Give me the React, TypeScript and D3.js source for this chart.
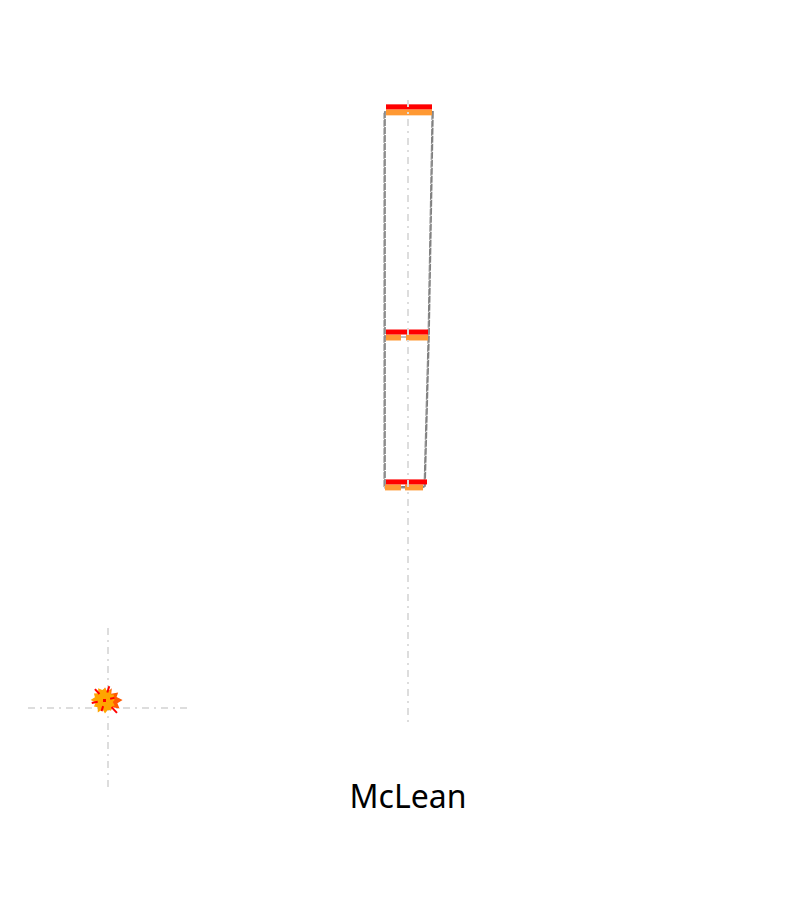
import { useEffect, useRef } from 'react';
import * as d3 from 'd3';

// Vertical position of each level (0 = bottom of axis, 100 = top)
const levelValues = [98.9, 62.7, 38.6];
// Width of the red cap on each level
const capWidths = [47, 43, 42];
// Orange strips under each cap, as [start, end] pairs
const orangeSegments: [number, number][][] = [
    [[1, 47]],
    [[1, 16], [21, 43]],
    [[0, 16], [20, 38]],
];
// Right edge of the grey outline at each level (left edge is 0)
const outlineRight = [48, 44, 40];
const outlineLeft = [0, 0, 0];

// Small radial glyph on the lower left (24 spokes, clockwise from top)
const glyphBack = [3.2, 2.0, 3.4, 2.2, 3.8, 3.0, 4.4, 3.2, 4.2, 2.6, 3.0, 2.0,
    2.2, 1.6, 2.0, 1.5, 2.2, 1.6, 2.4, 1.8, 2.6, 1.8, 3.0, 2.0];
const glyphFront = [3.0, 2.2, 2.8, 2.0, 2.6, 2.2, 2.4, 2.0, 2.8, 2.4, 3.0, 2.6,
    3.4, 2.4, 3.6, 2.6, 3.2, 2.4, 3.6, 2.6, 3.2, 2.4, 3.4, 2.6];
const glyphRed = [3.6, 2.4, 4.4, 2.9, 3.4, 3.7];

const title = 'McLean';

export default function App() {
    const svgRef = useRef<SVGSVGElement>(null);

    useEffect(() => {
        if (!svgRef.current) return;
        const svg = d3.select(svgRef.current);
        svg.selectAll('*').remove();

        const yScale = d3.scaleLinear().domain([0, 100]).range([722, 100]);
        const xScale = d3.scaleLinear().domain([0, 50]).range([385, 435]);
        const axisX = xScale(23);

        // Outline (two sketchy strokes)
        const outlinePts = (dx: number, dy: number): [number, number][] => {
            const right = levelValues.map((v, i) => [xScale(outlineRight[i]) + dx, yScale(v) + 5 + dy] as [number, number]);
            const left = levelValues.map((v, i) => [xScale(outlineLeft[i]) + dx, yScale(v) + 5 + dy] as [number, number]).reverse();
            return [...right, ...left];
        };
        const line = d3.line().curve(d3.curveLinearClosed);
        [[0, 0], [-1, 1]].forEach(([dx, dy], k) => {
            svg.append('path')
                .attr('d', line(outlinePts(dx, dy)))
                .attr('fill', 'none')
                .attr('stroke', '#808080')
                .attr('stroke-width', k === 0 ? 1.6 : 1)
                .attr('stroke-dasharray', '7,1');
        });
        svg.append('line')
            .attr('x1', xScale(0)).attr('x2', xScale(outlineRight[1]))
            .attr('y1', yScale(levelValues[1]) + 5).attr('y2', yScale(levelValues[1]) + 5)
            .attr('stroke', '#808080').attr('stroke-width', 1);

        // Caps
        levelValues.forEach((v, i) => {
            const y = yScale(v);
            orangeSegments[i].forEach(([a, b]) => {
                svg.append('rect')
                    .attr('x', xScale(a)).attr('y', y + 2.5)
                    .attr('width', xScale(b) - xScale(a)).attr('height', 6)
                    .attr('fill', '#ff9933');
            });
            svg.append('rect')
                .attr('x', xScale(1)).attr('y', y - 2.5)
                .attr('width', xScale(capWidths[i]) - xScale(1)).attr('height', 5)
                .attr('fill', '#ff0000');
        });

        // Centre axis
        svg.append('line')
            .attr('x1', axisX).attr('x2', axisX)
            .attr('y1', yScale(100)).attr('y2', yScale(0))
            .attr('stroke', '#dddddd').attr('stroke-width', 2)
            .attr('stroke-dasharray', '7,5,2,5');

        // Radial glyph
        const cx = 108, cy = 708;
        const rScale = d3.scaleLinear().domain([0, 20]).range([0, 80]);
        [[cx - rScale(20), cy, cx + rScale(20), cy], [cx, cy - rScale(20), cx, cy + rScale(20)]].forEach(([x1, y1, x2, y2]) => {
            svg.append('line')
                .attr('x1', x1).attr('x2', x2)
                .attr('y1', y1).attr('y2', y2)
                .attr('stroke', '#dddddd').attr('stroke-width', 2)
                .attr('stroke-dasharray', '7,5,2,5');
        });

        const gx = cx - 3, gy = cy - 8;
        const angle = (i: number, n: number) => (i / n) * 2 * Math.PI;
        const radial = (vals: number[]) => d3.lineRadial<number>()
            .angle((_, i) => angle(i, vals.length))
            .radius(d => rScale(d))
            .curve(d3.curveLinearClosed)(vals);
        const g = svg.append('g').attr('transform', `translate(${gx},${gy})`);
        g.append('path').attr('d', radial(glyphBack)).attr('fill', '#ff5a00');
        g.append('path').attr('d', radial(glyphFront)).attr('fill', '#ffa500');
        glyphRed.forEach((d, i) => {
            const a = angle(i, glyphRed.length) + 0.3;
            g.append('line')
                .attr('x1', Math.sin(a) * rScale(d) * 0.55)
                .attr('y1', -Math.cos(a) * rScale(d) * 0.55)
                .attr('x2', Math.sin(a) * rScale(d))
                .attr('y2', -Math.cos(a) * rScale(d))
                .attr('stroke', '#ff0000').attr('stroke-width', 2);
        });
        g.append('rect').attr('x', -2).attr('y', -1).attr('width', 3).attr('height', 3).attr('fill', '#ff0000');

        // Title
        svg.append('text')
            .attr('x', axisX).attr('y', 808)
            .attr('text-anchor', 'middle')
            .attr('font-family', '"Noto Sans", "Open Sans", sans-serif')
            .attr('font-size', 32)
            .attr('fill', '#000')
            .text(title);
    }, []);

    return (
        <svg
            ref={svgRef}
            width={800}
            height={900}
            style={{ position: 'absolute', left: 0, top: 0, background: '#fff' }}
        />
    );
}
